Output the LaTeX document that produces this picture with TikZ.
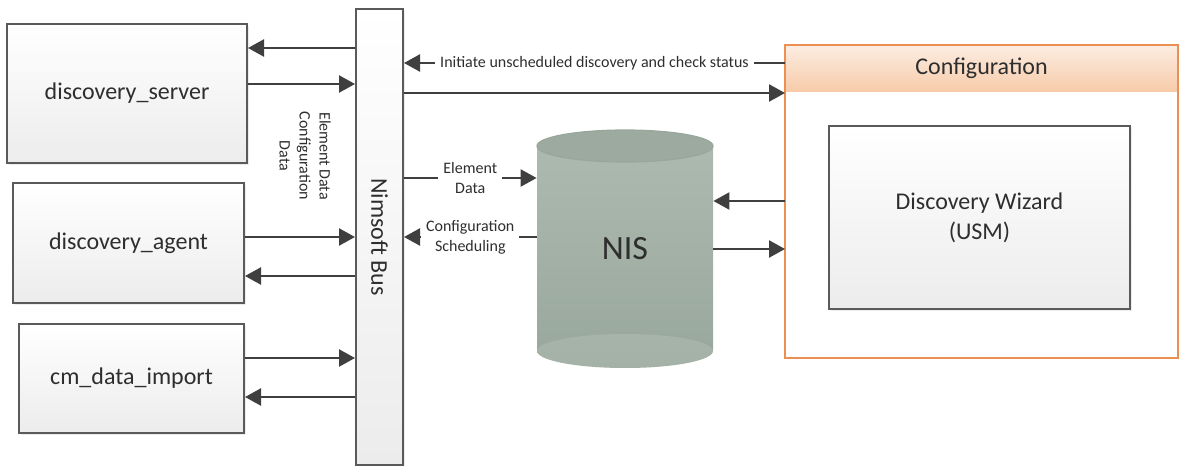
\documentclass[tikz,border=0pt]{standalone}
\usepackage{fontspec}
\setmainfont{Carlito}
\usetikzlibrary{arrows.meta, positioning, shadows}
\definecolor{linegrey}{HTML}{3F3F3F}
\definecolor{edgegrey}{HTML}{5A5A5A}
\definecolor{boxgrey}{HTML}{ECECEC}
\definecolor{textgrey}{HTML}{2E2E2E}
\definecolor{cfgedge}{HTML}{EC8F52}
\definecolor{cfgtop}{HTML}{FCEDE2}
\definecolor{cfgbottom}{HTML}{F7CBA9}
\definecolor{nistop}{HTML}{AEBBB1}
\definecolor{nisbottom}{HTML}{98A79B}
\definecolor{niscap}{HTML}{9DAAA0}

\begin{document}
\begin{tikzpicture}[x=0.5pt, y=-0.5pt, >={Triangle[length=8pt,width=8.5pt]}]
    \tikzstyle{module}=[rectangle, draw=edgegrey, line width=1pt, top color=white, bottom color=boxgrey,
        text=textgrey, font=\fontsize{12}{15}\selectfont, align=center,
        drop shadow={shadow xshift=1.2pt, shadow yshift=-1.2pt, opacity=0.15}]
    \tikzstyle{flow}=[->, draw=linegrey, line width=1.2pt]
    \tikzstyle{note}=[font=\fontsize{8}{10}\selectfont, text=textgrey, align=center, inner sep=2.5pt]

    \useasboundingbox (0,0) rectangle (1180,466);

    % left side probes
    \node[module, minimum width=120pt, minimum height=69.5pt] (srv) at (127,93.5) {discovery\_server};
    \node[module, minimum width=115.5pt, minimum height=60pt] (agt) at (128.5,243) {discovery\_agent};
    \node[module, minimum width=112.5pt, minimum height=54.5pt] (cmi) at (131.5,378.5) {cm\_data\_import};

    % the bus
    \node[module, minimum width=23.5pt, minimum height=228pt,
          label={[rotate=-90, text=textgrey, font=\fontsize{12}{15}\selectfont]center:Nimsoft Bus}] (bus) at (379.5,237) {};
    \node[note, rotate=-90] (busdata) at (305,156) {Element Data\\Configuration\\Data};

    % NIS database
    \shade[top color=nistop, bottom color=nisbottom]
        (537,146) -- (537,351) arc[start angle=180, end angle=360, x radius=44pt, y radius=8.5pt]
        -- (713,146) arc[start angle=0, end angle=180, x radius=44pt, y radius=8pt] -- cycle;
    \fill[white, opacity=0.12] (625,351) ellipse [x radius=44pt, y radius=8.5pt];
    \draw[fill=niscap, draw=nisbottom, line width=0.6pt] (625,146) ellipse [x radius=44pt, y radius=8pt];
    \node[text=textgrey, font=\fontsize{17}{20}\selectfont, minimum width=88pt, minimum height=102.5pt] (nis) at (625,248.5) {NIS};

    % configuration group
    \node[rectangle, fill=white, minimum width=195.5pt, minimum height=155.5pt, line width=1pt,
          drop shadow={shadow xshift=1.2pt, shadow yshift=-1.2pt, opacity=0.12}] (cfg) at (981.5,201.5) {};
    \node[rectangle, anchor=north, top color=cfgtop, bottom color=cfgbottom, minimum width=195.5pt, minimum height=23pt,
          text=textgrey, font=\fontsize{12}{15}\selectfont] (cfghead) at (cfg.north) {Configuration};
    \draw[cfgedge, line width=1pt] (cfg.north west) rectangle (cfg.south east);
    \node[module, minimum width=150.5pt, minimum height=91.5pt] (wiz) at (979.5,217.5) {Discovery Wizard\\(USM)};

    % probes <-> bus
    \foreach \src / \y in {srv/84, agt/237, cmi/358}
        \draw[flow] (\src.east |- 0,\y) -- (bus.west |- 0,\y);
    \foreach \dst / \y in {srv/48, agt/276, cmi/397}
        \draw[flow] (bus.west |- 0,\y) -- (\dst.east |- 0,\y);

    % bus <-> configuration and NIS
    \draw[flow] (cfg.west |- 0,63) -- node[note, fill=white] {Initiate unscheduled discovery and check status} (bus.east |- 0,63);
    \draw[flow] (bus.east |- 0,93) -- (cfg.west |- 0,93);
    \draw[flow] (bus.east |- 0,178) -- node[note, fill=white] {Element\\Data} (nis.west |- 0,178);
    \draw[flow] (nis.west |- 0,237) -- node[note, fill=white] {Configuration\\Scheduling} (bus.east |- 0,237);

    % NIS <-> configuration
    \draw[flow] (cfg.west |- 0,201) -- (nis.east |- 0,201);
    \draw[flow] (nis.east |- 0,249) -- (cfg.west |- 0,249);
\end{tikzpicture}
\end{document}
